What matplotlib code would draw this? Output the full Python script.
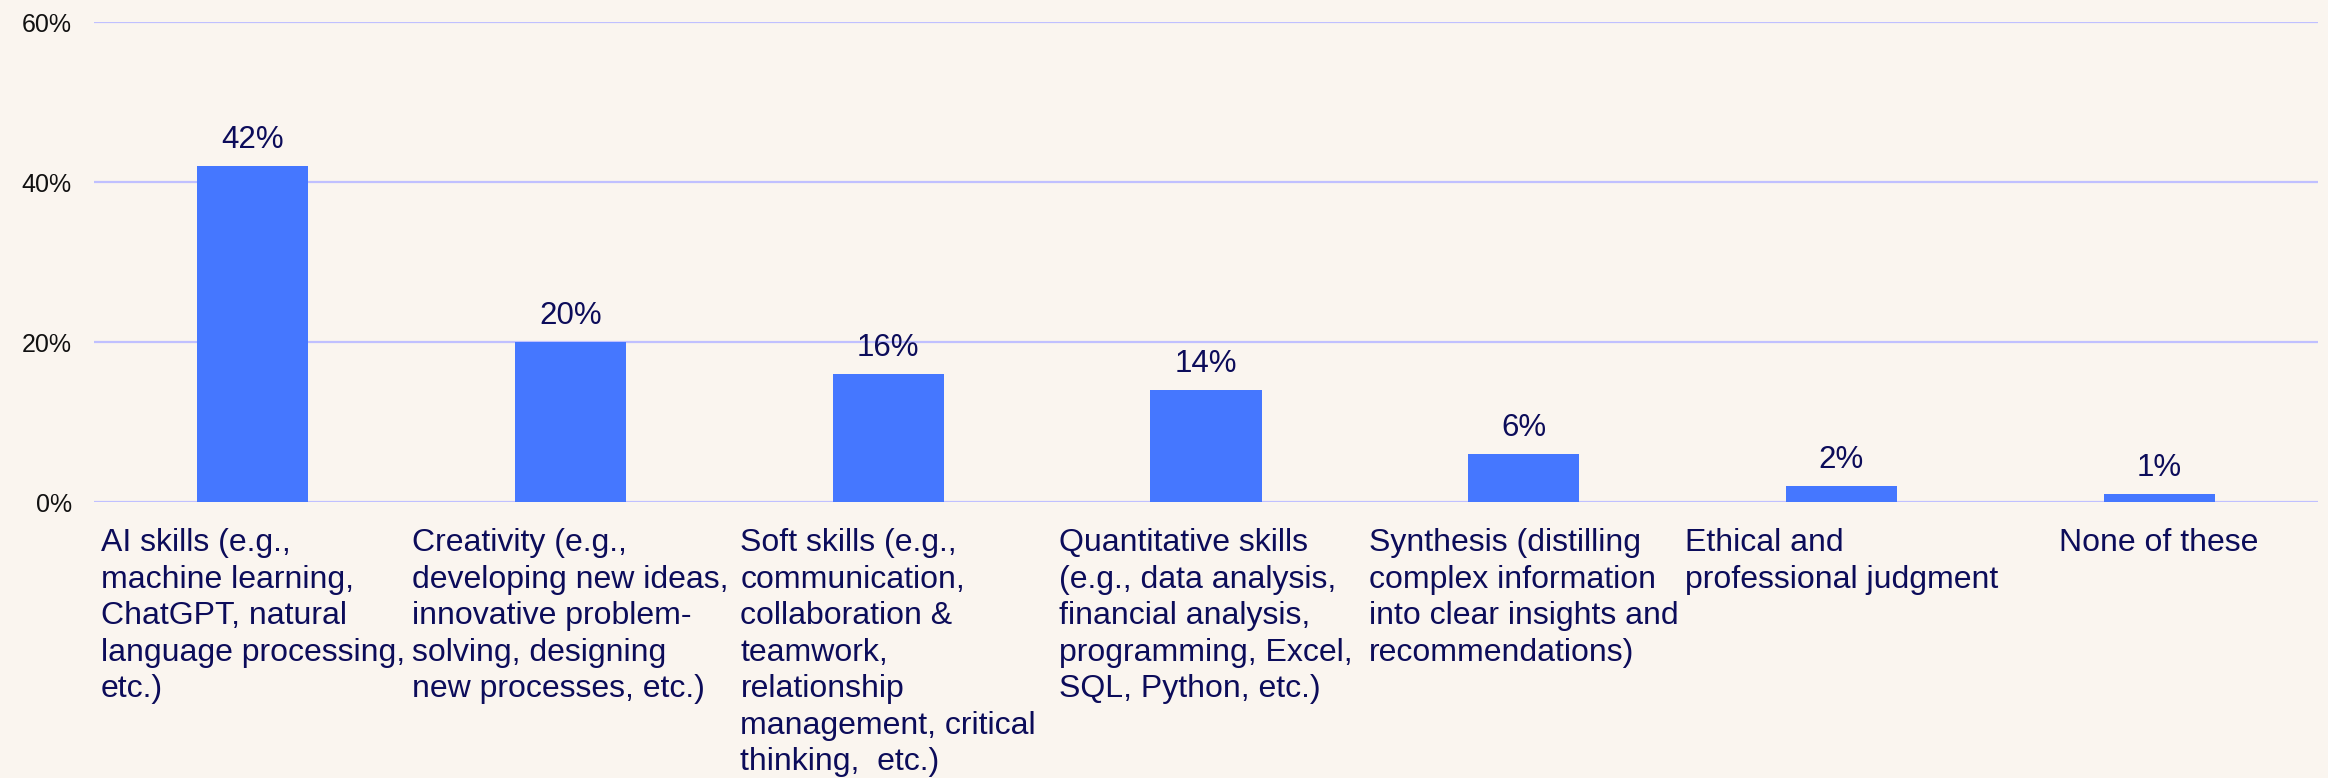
import matplotlib
matplotlib.use("Agg")
import matplotlib.pyplot as plt
from matplotlib.ticker import FuncFormatter

categories = [
    "AI skills (e.g.,\nmachine learning,\nChatGPT, natural\nlanguage processing,\netc.)",
    "Creativity (e.g.,\ndeveloping new ideas,\ninnovative problem-\nsolving, designing\nnew processes, etc.)",
    "Soft skills (e.g.,\ncommunication,\ncollaboration &\nteamwork,\nrelationship\nmanagement, critical\nthinking,  etc.)",
    "Quantitative skills\n(e.g., data analysis,\nfinancial analysis,\nprogramming, Excel,\nSQL, Python, etc.)",
    "Synthesis (distilling\ncomplex information\ninto clear insights and\nrecommendations)",
    "Ethical and\nprofessional judgment",
    "None of these",
]
values = [42, 20, 16, 14, 6, 2, 1]
yticks = [0, 20, 40, 60]

BG = "#FAF5EF"
BAR = "#4577FF"
GRID = "#C0C0FF"
NAVY = "#0C0C5A"

plt.rcParams["font.family"] = ["Liberation Sans", "DejaVu Sans"]

fig = plt.figure(figsize=(23.28, 7.78), dpi=100, facecolor=BG)
ax = fig.add_axes([94 / 2328, 276 / 778, (2318 - 94) / 2328, (502 - 22) / 778])
ax.set_facecolor(BG)

x = list(range(len(values)))
ax.bar(x, values, width=0.35, color=BAR, zorder=3)

for xi, v in zip(x, values):
    ax.annotate(f"{v}%", (xi, v), xytext=(0, 8), textcoords="offset points",
                ha="center", va="bottom", fontsize=22.5, color=NAVY)

ax.set_xlim(-0.5, len(values) - 0.5)
ax.set_ylim(0, 60)
ax.set_yticks(yticks)
ax.yaxis.set_major_formatter(FuncFormatter(lambda v, p: f"{v:.0f}%"))
ax.grid(axis="y", color=GRID, linewidth=1.6, zorder=0)
ax.tick_params(axis="y", length=0, pad=16, labelsize=18, labelcolor="#111111")

ax.set_xticks(x)
ax.set_xticklabels(categories, fontsize=23, color=NAVY, linespacing=1.28)
for lbl in ax.get_xticklabels():
    lbl.set_multialignment("left")
ax.tick_params(axis="x", length=0, pad=19)

for s in ax.spines.values():
    s.set_visible(False)

fig.savefig("out.png", dpi=100, facecolor=BG)
